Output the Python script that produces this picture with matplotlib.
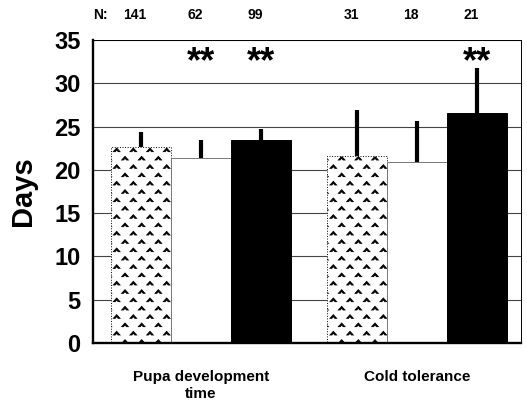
import numpy as np
import matplotlib
matplotlib.use("Agg")
import matplotlib.pyplot as plt
import matplotlib.hatch as mhatch
from matplotlib.path import Path
from matplotlib.transforms import blended_transform_factory

# ---------------- data ----------------
groups = ["Pupa development\ntime", "Cold tolerance"]
n_labels = ["141", "62", "99", "31", "18", "21"]
means = [22.6, 21.4, 23.5, 21.6, 20.9, 26.6]
errors = [1.8, 2.0, 1.2, 5.3, 4.8, 5.2]
significant = [False, True, True, False, False, True]
y_ticks = [0, 5, 10, 15, 20, 25, 30, 35]

# ---------------- custom caret hatch ----------------
class Carets(mhatch.HatchPatternBase):
    size = 0.40

    def __init__(self, hatch, density):
        self.num_rows = int(hatch.count('*') * density)
        self.shape_vertices = np.array([[-0.5, -0.25], [0, 0.3], [0.5, -0.25],
                                        [0.22, -0.25], [0, 0.02], [-0.22, -0.25],
                                        [-0.5, -0.25]])
        self.shape_codes = np.array([Path.MOVETO] + [Path.LINETO] * 5 + [Path.CLOSEPOLY],
                                    dtype=Path.code_type)
        n = self.num_rows
        self.num_shapes = 0 if n == 0 else (n + 1) * (n + 1) + n * n
        self.num_vertices = self.num_shapes * len(self.shape_vertices)

    def set_vertices_and_codes(self, vertices, codes):
        n = self.num_rows
        offset = 1.0 / n
        sv = self.shape_vertices * offset * self.size
        vparts, cparts = [], []
        for i in range(2 * n + 1):
            row = i * offset / 2
            if i % 2 == 0:
                cols = np.linspace(0, 1, n + 1)
            else:
                cols = np.linspace(offset / 2, 1 - offset / 2, n)
            for c in cols:
                vparts.append(sv + [c, row])
                cparts.append(self.shape_codes)
        np.concatenate(vparts, out=vertices)
        np.concatenate(cparts, out=codes)

mhatch._hatch_types[mhatch._hatch_types.index(mhatch.Stars)] = Carets

plt.rcParams['font.family'] = ['Liberation Sans', 'DejaVu Sans']
plt.rcParams['font.weight'] = 'bold'
plt.rcParams['axes.labelweight'] = 'bold'
plt.rcParams['hatch.linewidth'] = 0.6

# ---------------- figure ----------------
fig = plt.figure(figsize=(5.27, 4.04), dpi=100)
ax = fig.add_axes([93 / 527, 1 - 343 / 404, 428 / 527, 303 / 404])

x = np.array([0, 1, 2, 3.6, 4.6, 5.6])
face = ['white', 'white', 'black'] * 2
edge = ['black', '#777777', 'black'] * 2
hatches = ['*', '', ''] * 2
styles = [':', '-', '-'] * 2

ax.yaxis.grid(True, color='#444444', lw=0.8)
ax.set_axisbelow(True)

for xi, m, fc, ec, h, ls in zip(x, means, face, edge, hatches, styles):
    ax.bar(xi, m, width=1.0, color=fc, edgecolor=ec, hatch=h, linestyle=ls,
           linewidth=0.7, zorder=2)

ax.errorbar(x, means, yerr=[np.zeros(len(means)), errors], fmt='none',
            ecolor='black', elinewidth=3.0, capsize=0, zorder=3)

ax.set_xlim(-0.8, 6.33)
ax.set_ylim(0, 35)
ax.set_yticks(y_ticks)
ax.tick_params(axis='y', length=0, pad=9, labelsize=17)
ax.set_xticks([x[1], x[4]])
ax.set_xticklabels(groups, fontsize=11, linespacing=1.3)
ax.tick_params(axis='x', length=0, pad=19.5)

ax.set_ylabel('Days', fontsize=21, va='center', fontweight='bold')
ax.yaxis.set_label_coords(-70 / 428, 0.5)

for s in ['left', 'bottom']:
    ax.spines[s].set_linewidth(1.7)
for s in ['top', 'right']:
    ax.spines[s].set_linewidth(0.7)

trans = blended_transform_factory(ax.transData, ax.transAxes)
ax.text(0, 1.0825, 'N:', transform=ax.transAxes, ha='left', va='center', fontsize=10)
for xi, lab in zip(x, n_labels):
    ax.text(xi - 0.1, 1.0825, lab, transform=trans, ha='center', va='center', fontsize=10)

for xi, sig in zip(x, significant):
    if sig:
        ax.text(xi, 32.4, '**', ha='center', va='center', fontsize=26, zorder=4)

fig.savefig('out.png', dpi=100)
